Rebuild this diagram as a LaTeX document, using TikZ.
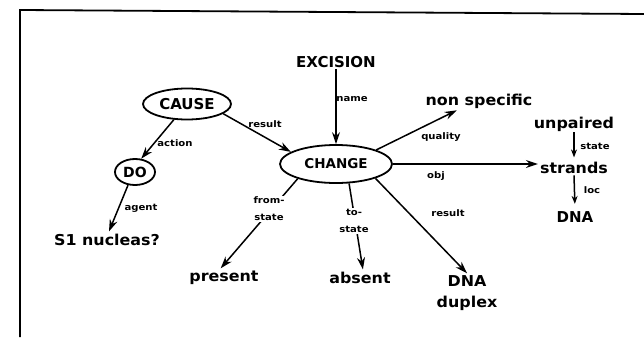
\documentclass[tikz,border=0pt]{standalone}
\usepackage{fontspec}
\setmainfont{DejaVu Sans}
\newfontfamily\capf{DejaVu Sans}
\newfontfamily\lowf[FakeStretch=1.06]{DejaVu Sans}
\newfontfamily\lblf[FakeStretch=1.12]{DejaVu Sans}
\usetikzlibrary{arrows.meta,shapes.geometric}
\begin{document}
\begin{tikzpicture}[x=1pt,y=-1pt,
  capt/.style={font=\capf\bfseries\fontsize{15}{18}\selectfont, inner sep=2pt, anchor=base},
  lowt/.style={font=\lowf\bfseries\fontsize{15}{18}\selectfont, inner sep=2pt, anchor=base},
  oval/.style={ellipse, draw, line width=1.8pt, inner sep=0pt},
  lbl/.style={font=\lblf\bfseries\fontsize{9}{11}\selectfont, inner sep=1pt},
  arr/.style={line width=1.5pt, -{Stealth[length=12pt,width=8pt]}},
  sarr/.style={line width=1.5pt, -{Stealth[length=8pt,width=6pt]}}]
\useasboundingbox (0,0) rectangle (644,337);
% frame
\coordinate (fb) at (20,337);
\coordinate (ftl) at (20,10);
\coordinate (ftr) at (644,14);
\draw[line width=1.8pt] (fb) -- (ftl) -- (ftr);
% nodes
\node[capt] (excision) at (336,67) {EXCISION};
\node[oval, minimum width=88, minimum height=31, font=\capf\bfseries\fontsize{15}{18}\selectfont] (cause) at (187,104) {CAUSE};
\node[oval, minimum width=40, minimum height=26, font=\capf\bfseries\fontsize{14}{18}\selectfont] (do) at (135,172) {DO};
\node[oval, minimum width=112, minimum height=38, font=\capf\bfseries\fontsize{13.5}{18}\selectfont] (change) at (336,164) {CHANGE};
\node[lowt] (nonspec) at (479,105) {non specific};
\node[lowt] (unpaired) at (574,128) {unpaired};
\node[lowt] (strands) at (574,173) {strands};
\node[capt] (dnar) at (575,222) {DNA};
\node[lowt] (s1) at (107,245) {S1 nucleas?};
\node[lowt] (present) at (224,281) {present};
\node[lowt] (absent) at (360,283) {absent};
\node[font=\lowf\bfseries\fontsize{15}{21}\selectfont, align=center, inner sep=2pt] (dnadup) at (467,293) {DNA\\duplex};
% connectors
\draw[arr] (excision.south) -- (change.north);
\draw[arr] (cause.-15) -- (change.165);
\draw[arr] (cause.230) -- (do.65);
\draw[arr] (do.242) -- (s1.76);
\draw[arr] (change.north east) -- (nonspec.203);
\draw[arr] (change.east) -- (change.east -| strands.west);
\draw[sarr, shorten <=-1pt, shorten >=2pt] (unpaired.south) -- (strands.north);
\draw[sarr, shorten >=5pt] (strands.south) -- (dnar.north);
\draw[arr] (change.201) -- (present.110);
\draw[arr] (change.-56) -- (absent.70);
\draw[arr] (change.-20) -- (dnadup.north);
% labels
\node[lbl] (lname) at (352,99) {name};
\node[lbl] (lres1) at (265,124) {result};
\node[lbl] (lact) at (175,143) {action};
\node[lbl] (lagent) at (141,208) {agent};
\node[lbl] (lqual) at (441,137) {quality};
\node[lbl] (lobj) at (436,176) {obj};
\node[lbl] (lstate) at (595,146) {state};
\node[lbl] (lloc) at (592,190) {loc};
\node[lbl, fill=white, align=center, font=\lblf\bfseries\fontsize{9}{17}\selectfont] (lfrom) at (269,209) {from-\\state};
\node[lbl, fill=white, align=center, font=\lblf\bfseries\fontsize{9}{17}\selectfont] (lto) at (354,221) {to-\\state};
\node[lbl] (lres2) at (448,213) {result};
\end{tikzpicture}
\end{document}
